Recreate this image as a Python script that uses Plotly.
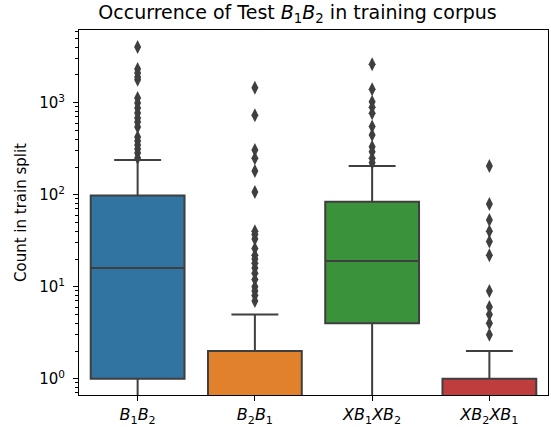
import plotly.graph_objects as go

categories = ["B1B2", "B2B1", "XB1XB2", "XB2XB1"]
tick_labels = ["<i>B</i><sub>1</sub><i>B</i><sub>2</sub>",
               "<i>B</i><sub>2</sub><i>B</i><sub>1</sub>",
               "<i>XB</i><sub>1</sub><i>XB</i><sub>2</sub>",
               "<i>XB</i><sub>2</sub><i>XB</i><sub>1</sub>"]
q1 = [1, 0, 4, 0]
median = [16, 0, 19, 0]
q3 = [98, 2, 84, 1]
lower_whisker = [0, 0, 0, 0]
upper_whisker = [238, 5, 205, 2]
outliers = [
    [4030, 2320, 2100, 1900, 1770, 1125, 993, 876, 773, 682, 617, 545,
     424, 384, 347, 314, 284, 251],
    [1456, 730, 306, 249, 181, 107, 40, 37, 33, 26, 22, 20, 18, 16, 14,
     12, 10, 9, 8, 7],
    [2615, 1400, 1025, 892, 767, 550, 446, 333, 293, 249, 223],
    [205, 79, 53, 40, 31, 22, 9, 6, 5, 4, 3],
]
colors = ["#3274a1", "#e1812c", "#3a923a", "#c03d3e"]
y_ticks = [1, 10, 100, 1000]
y_tick_text = ["10<sup>0</sup>", "10<sup>1</sup>", "10<sup>2</sup>", "10<sup>3</sup>"]
minor_ticks = [m * 10 ** e for e in range(-1, 4) for m in range(2, 10)]

FLOOR = 1e-2  # zero counts drawn below the visible log range
Y_RANGE = [-0.177, 3.79]


def pos(v):
    return v if v > 0 else FLOOR


fig = go.Figure()
for i, c in enumerate(categories):
    fig.add_trace(go.Box(
        x=[c], q1=[pos(q1[i])], median=[pos(median[i])], q3=[pos(q3[i])],
        lowerfence=[pos(lower_whisker[i])], upperfence=[pos(upper_whisker[i])],
        fillcolor=colors[i], line=dict(color="#3f3f3f", width=2),
        width=0.8, whiskerwidth=0.5, boxpoints=False, showlegend=False,
        hoverinfo="skip",
    ))
    fig.add_trace(go.Scatter(
        x=[c] * len(outliers[i]), y=outliers[i], mode="markers",
        marker=dict(symbol="diamond-tall", size=10, color="#3f3f3f",
                    line=dict(width=0)),
        showlegend=False,
    ))

# invisible trace to carry the minor-tick axis
fig.add_trace(go.Scatter(x=[categories[0]], y=[1], yaxis="y2",
                         mode="markers", marker=dict(opacity=0),
                         showlegend=False, hoverinfo="skip"))

fig.update_layout(
    width=551, height=427,
    margin=dict(l=79, r=3, t=30, b=32),
    paper_bgcolor="white", plot_bgcolor="white",
    font=dict(family="DejaVu Sans", size=15, color="black"),
    title=dict(text="Occurrence of Test <i>B</i><sub>1</sub><i>B</i><sub>2</sub> in training corpus",
               x=0.54, xanchor="center", y=0.972, yanchor="middle",
               font=dict(size=19)),
    xaxis=dict(type="category", categoryorder="array", categoryarray=categories,
               tickvals=categories, ticktext=tick_labels, automargin=False,
               range=[-0.5, 3.5], showgrid=False, zeroline=False,
               showline=True, mirror=True, linecolor="black", linewidth=1,
               ticks="outside", ticklen=5, tickcolor="black",
               tickfont=dict(size=16)),
    yaxis=dict(type="log", range=Y_RANGE, tickvals=y_ticks,
               ticktext=y_tick_text, showgrid=False, zeroline=False,
               showline=True, mirror=True, linecolor="black", linewidth=1,
               ticks="outside", ticklen=5, tickcolor="black", automargin=False,
               ticklabelstandoff=5, tickfont=dict(size=15),
               title=dict(text="Count in train split", standoff=8,
                          font=dict(size=15))),
    yaxis2=dict(type="log", range=Y_RANGE, overlaying="y", side="left",
                anchor="x", tickmode="array", tickvals=minor_ticks,
                showticklabels=False,
                showgrid=False, zeroline=False, showline=False,
                ticks="outside", ticklen=3, tickcolor="black", tickwidth=1,
                automargin=False),
)

fig.write_html("out.html", config={"displayModeBar": False},
               post_script="document.body.style.margin='0';")
